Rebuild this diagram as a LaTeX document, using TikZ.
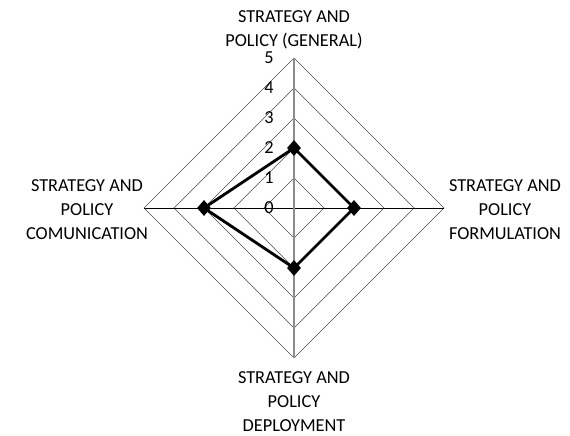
\documentclass[tikz,border=0pt]{standalone}
\usepackage{fontspec}
\setmainfont{Carlito}
\usetikzlibrary{shapes.geometric}
\begin{document}
\begin{tikzpicture}[x=1pt,y=-1pt,
  grid/.style={draw=black!70,line width=0.5pt},
  vaxis/.style={draw=black!45,line width=1.4pt},
  haxis/.style={draw=black,line width=0.8pt},
  series/.style={draw=black,line width=2.8pt,line join=miter},
  marker/.style={diamond,fill=black,inner sep=0pt,minimum width=14pt,minimum height=16pt},
  lbl/.style={align=center,font=\fontsize{18.3}{24}\selectfont},
  num/.style={font=\fontsize{18.3}{20}\selectfont,anchor=center}]
\useasboundingbox (0,0) rectangle (570,436);
\coordinate (c) at (294,208);
\foreach \r in {1,...,5} {
  \draw[grid] (294,{208-30*\r}) -- ({294+30*\r},208) -- (294,{208+30*\r}) -- ({294-30*\r},208) -- cycle;
}
\coordinate (T) at (294,58);
\coordinate (B) at (294,358);
\coordinate (L) at (144,208);
\coordinate (R) at (444,208);
\draw[haxis] (L) -- (R);
\draw[vaxis] (T) -- (B);
\foreach \r in {0,...,5} {
  \node[num] (n\r) at (269,{208-30*\r}) {\r};
}
\node[marker] (m1) at (294,148) {};
\node[marker] (m2) at (354,208) {};
\node[marker] (m3) at (294,268) {};
\node[marker] (m4) at (204,208) {};
\draw[series] (m1.center) -- (m2.center) -- (m3.center) -- (m4.center) -- cycle;
\node[lbl] (lt) at (294,30) {STRATEGY AND\\POLICY (GENERAL)};
\node[lbl] (lr) at (505,210) {STRATEGY AND\\POLICY\\FORMULATION};
\node[lbl] (lb) at (294,402) {STRATEGY AND\\POLICY\\DEPLOYMENT};
\node[lbl] (ll) at (87,210) {STRATEGY AND\\POLICY\\COMUNICATION};
\end{tikzpicture}
\end{document}
